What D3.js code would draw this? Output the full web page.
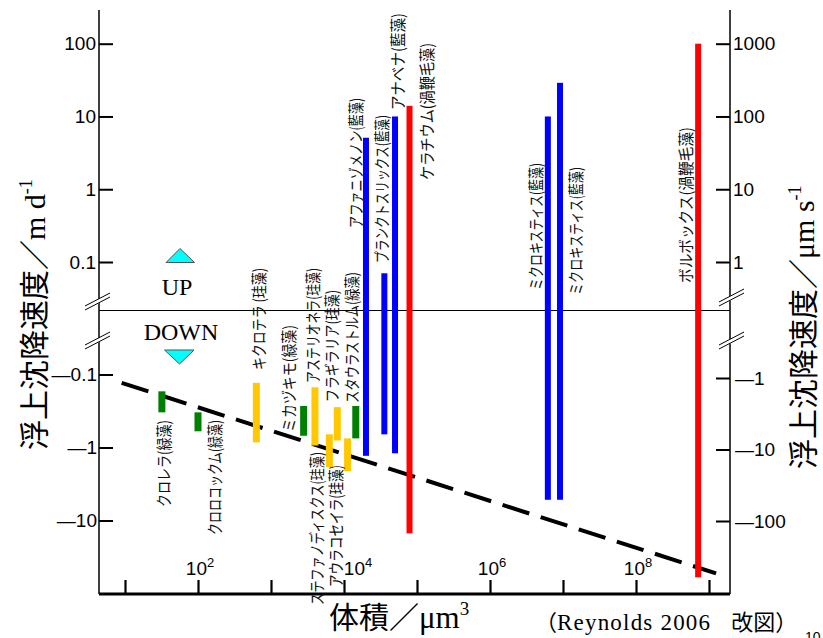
<!DOCTYPE html>
<html>
<head>
<meta charset="utf-8">
<script src="https://cdn.jsdelivr.net/npm/d3@7/dist/d3.min.js"></script>
<style>
  body { margin: 0; background: #fff; }
  svg { display: block; }
</style>
</head>
<body>
<svg width="823" height="638"></svg>
<script>
// 種名・体積(µm3)・浮上沈降速度の範囲(m/d, 負は沈降)
const species = [
  "クロレラ(緑藻)", "クロロコックム(緑藻)", "キクロテラ (珪藻)", "ミカヅキモ(緑藻)",
  "アステリオネラ(珪藻)", "ステファノディスクス(珪藻)", "フラギラリア(珪藻)", "アウラコセイラ(珪藻)",
  "スタウラストルム(緑藻)", "アファニゾメノン(藍藻)", "プランクトスリックス(藍藻)", "アナベナ(藍藻)",
  "ケラチウム(渦鞭毛藻)", "ミクロキスティス(藍藻)", "ミクロキスティス(藍藻)", "ボルボックス(渦鞭毛藻)"
];
const volumes = [32, 100, 630, 2800, 4000, 6300, 8100, 11200, 14500, 20000, 35700, 50000, 79000, 6.2e6, 9.1e6, 7.1e8];
const vTop    = [-0.17, -0.33, -0.13, -0.27, -0.15, -0.66, -0.28, -0.75, -0.27, 5.1, 0.07, 10, 14, 10, 29, 100];
const vBottom = [-0.33, -0.6, -0.85, -0.69, -0.94, -1.86, -0.8, -2.1, -0.75, -1.3, -0.66, -1.2, -15, -5.2, -5.2, -60];
const groups  = ["green", "green", "diatom", "green", "diatom", "diatom", "diatom", "diatom",
                 "green", "cyano", "cyano", "cyano", "dino", "cyano", "cyano", "dino"];

// 破線（ストークス則の目安）
const lineVol = [9, 1.25e9];
const lineV = [-0.13, -53];

// 目盛り
const leftUpTicks = [100, 10, 1, 0.1];
const leftDownTicks = [0.1, 1, 10];
const rightUpTicks = [1000, 100, 10, 1];
const rightDownTicks = [1, 10, 100];
const xTicks = [1e1, 1e2, 1e3, 1e4, 1e5, 1e6, 1e7, 1e8, 1e9];
const xLabelExp = [2, 4, 6, 8];

// ラベル配置（棒の中心からのずれ, 下端y, 長さ）
const labelPos = [
  [1, 507, 87], [15.5, 535, 115], [2, 370, 102], [-16, 432, 107],
  [-3, 383, 115], [-13.5, 605, 153], [-6.5, 402, 112], [-12.5, 587, 122],
  [-4.5, 403, 131], [-11, 228, 130], [-3, 263, 148], [2, 110, 97],
  [16, 180, 137], [-13, 290, 127], [15, 295, 128], [-13, 283, 156]
];

const colors = { green: "#008000", diatom: "#ffc800", cyano: "#0000ff", dino: "#ff0000" };
const barW = { green: 7, diatom: 7, cyano: 6, dino: 6 };

const sans = "'Liberation Sans', Arial, sans-serif";
const serif = "'Liberation Serif', 'Times New Roman', serif";
const cjk = "'Noto Sans CJK JP', sans-serif";

const svg = d3.select("svg");
const xL = 99, xR = 730, yT = 10, yB = 594, yMid = 310.5;

const x = d3.scaleLog().domain([10, 1e9]).range([125, 709]);
const yUp = d3.scaleLog().domain([0.1, 100]).range([262, 43.7]);
const yDown = d3.scaleLog().domain([0.1, 10]).range([374.5, 520.5]);
const yUpR = d3.scaleLog().domain([1, 1000]).range([262, 43.7]);
const yDownR = d3.scaleLog().domain([1, 100]).range([378, 521]);
const yv = v => v > 0 ? yUp(v) : yDown(-v);

// 軸線
svg.append("line").attr("x1", xL).attr("x2", xL).attr("y1", yT).attr("y2", yB)
  .attr("stroke", "#000").attr("stroke-width", 1.5);
svg.append("line").attr("x1", xR).attr("x2", xR).attr("y1", yT).attr("y2", yB)
  .attr("stroke", "#000").attr("stroke-width", 1.5);
svg.append("line").attr("x1", xL).attr("x2", xR).attr("y1", yMid).attr("y2", yMid)
  .attr("stroke", "#000").attr("stroke-width", 1).attr("shape-rendering", "crispEdges");

function styleAxis(g) {
  g.select(".domain").remove();
  g.selectAll(".tick line").attr("stroke", "#000").attr("stroke-width", 2);
  g.selectAll(".tick text").attr("font-family", sans).attr("font-size", 19).attr("fill", "#000");
}

svg.append("g").attr("transform", `translate(${xL},0)`)
  .call(d3.axisLeft(yUp).tickValues(leftUpTicks).tickSizeInner(-14).tickSizeOuter(0)
    .tickPadding(3).tickFormat(d => String(d)))
  .call(styleAxis);
svg.append("g").attr("transform", `translate(${xL},0)`)
  .call(d3.axisLeft(yDown).tickValues(leftDownTicks).tickSizeInner(-14).tickSizeOuter(0)
    .tickPadding(2).tickFormat(d => "\u2014" + d))
  .call(styleAxis);
svg.append("g").attr("transform", `translate(${xR},0)`)
  .call(d3.axisRight(yUpR).tickValues(rightUpTicks).tickSizeInner(-14).tickSizeOuter(0)
    .tickPadding(3).tickFormat(d => String(d)))
  .call(styleAxis);
svg.append("g").attr("transform", `translate(${xR},0)`)
  .call(d3.axisRight(yDownR).tickValues(rightDownTicks).tickSizeInner(-14).tickSizeOuter(0)
    .tickPadding(5).tickFormat(d => "\u2014" + d))
  .call(styleAxis);

svg.append("g").attr("transform", `translate(0,${yB})`)
  .call(d3.axisBottom(x).tickValues(xTicks).tickSizeInner(-14).tickSizeOuter(0).tickFormat(""))
  .call(g => {
    g.select(".domain").remove();
    g.selectAll(".tick line").attr("stroke", "#000").attr("stroke-width", 2.2);
  });
svg.append("line").attr("x1", xL).attr("x2", xR).attr("y1", yB).attr("y2", yB)
  .attr("stroke", "#000").attr("stroke-width", 3);

// x 軸ラベル (10^n)
const xLab = svg.append("g").selectAll("text").data(xLabelExp).join("text")
  .attr("x", (d, i) => x(Math.pow(10, d)) + (d === 4 ? 14 : 2))
  .attr("y", 575)
  .attr("text-anchor", "middle")
  .attr("font-family", sans).attr("font-size", 19);
xLab.append("tspan").text("10");
xLab.append("tspan").attr("font-size", 13).attr("dy", -8).text(d => d);

// 破線
svg.append("path")
  .datum(lineVol.map((v, i) => [v, lineV[i]]))
  .attr("d", d3.line().x(d => x(d[0])).y(d => yv(d[1])))
  .attr("fill", "none").attr("stroke", "#000").attr("stroke-width", 4)
  .attr("stroke-dasharray", "28,12");

// 棒
const data = species.map((s, i) => ({
  name: s, vol: volumes[i], top: vTop[i], bottom: vBottom[i], group: groups[i], lp: labelPos[i]
}));

svg.append("g").selectAll("rect").data(data).join("rect")
  .attr("x", d => x(d.vol) - barW[d.group] / 2)
  .attr("width", d => barW[d.group])
  .attr("y", d => yv(d.top))
  .attr("height", d => yv(d.bottom) - yv(d.top))
  .attr("fill", d => colors[d.group]);

// 種名ラベル
svg.append("g").selectAll("text").data(data).join("text")
  .attr("transform", d => `translate(${x(d.vol) + d.lp[0]},${d.lp[1]}) rotate(-90)`)
  .attr("dominant-baseline", "central")
  .attr("font-family", cjk).attr("font-size", 16).attr("fill", "#111")
  .attr("textLength", d => d.lp[2]).attr("lengthAdjust", "spacingAndGlyphs")
  .text(d => d.name);

// 軸の省略記号 (//)
function breakMark(cx, cy) {
  const g = svg.append("g").attr("transform", `translate(${cx},${cy})`);
  g.append("polygon").attr("points", "-12,4.5 12,-8 12,-3.5 -12,9")
    .attr("transform", "translate(0,-1)")
    .attr("fill", "#fff");
  g.append("line").attr("x1", -13).attr("y1", 4).attr("x2", 12).attr("y2", -9)
    .attr("stroke", "#000").attr("stroke-width", 1);
  g.append("line").attr("x1", -13).attr("y1", 8).attr("x2", 12).attr("y2", -5)
    .attr("stroke", "#000").attr("stroke-width", 1);
}
breakMark(98, 302);
breakMark(98, 341);
breakMark(732, 298);
breakMark(732, 341);

// UP / DOWN
svg.append("polygon").attr("points", "166,262.5 180,248.5 194.5,262.5")
  .attr("fill", "#00ffff").attr("stroke", "#555").attr("stroke-width", 1);
svg.append("polygon").attr("points", "164.5,350 194,350 179.5,364")
  .attr("fill", "#00ffff").attr("stroke", "#555").attr("stroke-width", 1);
svg.append("text").attr("x", 177).attr("y", 295).attr("text-anchor", "middle")
  .attr("font-family", serif).attr("font-size", 24).text("UP");
svg.append("text").attr("x", 181).attr("y", 339.5).attr("text-anchor", "middle")
  .attr("font-family", serif).attr("font-size", 24).text("DOWN");

// 軸タイトル
const tl = svg.append("text").attr("transform", "translate(45,450) rotate(-90)");
tl.append("tspan").attr("font-family", cjk).attr("font-size", 30).text("浮上沈降速度／");
tl.append("tspan").attr("font-family", serif).attr("font-size", 30).text("m d");
tl.append("tspan").attr("font-family", serif).attr("font-size", 18).attr("dy", -13).text("-1");

const tr = svg.append("text").attr("transform", "translate(814,469) rotate(-90)");
tr.append("tspan").attr("font-family", cjk).attr("font-size", 30).text("浮上沈降速度／");
tr.append("tspan").attr("font-family", serif).attr("font-size", 30).text("μm s");
tr.append("tspan").attr("font-family", serif).attr("font-size", 18).attr("dy", -13).text("-1");

const tb = svg.append("text").attr("x", 329).attr("y", 628);
tb.append("tspan").attr("font-family", cjk).attr("font-size", 30).text("体積／");
tb.append("tspan").attr("font-family", serif).attr("font-size", 31).text("μm");
tb.append("tspan").attr("font-family", serif).attr("font-size", 19).attr("dy", -13).text("3");

const src = svg.append("text").attr("x", 535).attr("y", 630);
src.append("tspan").attr("font-family", cjk).attr("font-size", 22).text("（");
src.append("tspan").attr("font-family", serif).attr("font-size", 23).attr("letter-spacing", 1.2)
  .text("Reynolds 2006");
src.append("tspan").attr("font-family", cjk).attr("font-size", 22).attr("dx", 20).text("改図）");

svg.append("text").attr("x", 805).attr("y", 642).attr("font-family", sans).attr("font-size", 14).text("10");
</script>
</body>
</html>
